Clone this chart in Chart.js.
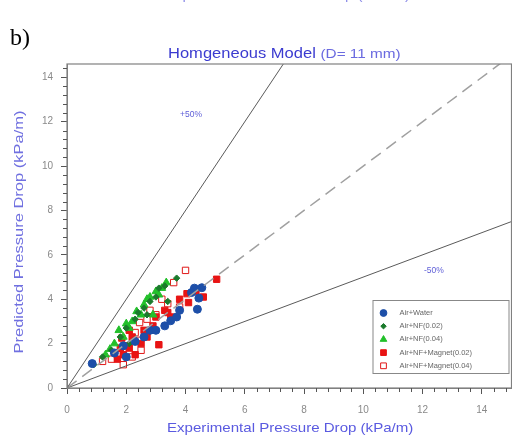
<!DOCTYPE html>
<html>
<head>
<meta charset="utf-8">
<script src="https://cdn.jsdelivr.net/npm/chart.js@4.4.1/dist/chart.umd.min.js"></script>
<style>
  body { margin: 0; background: #fff; }
  #wrap { position: relative; width: 512px; height: 448px; overflow: hidden; font-family: "Liberation Sans", Arial, sans-serif; }
  #grafica { position: absolute; left: 0; top: 0; }
  .txt { position: absolute; white-space: nowrap; transform-origin: 0 0; }
</style>
</head>
<body>
<div id="wrap">
  <canvas id="grafica" width="517" height="448"></canvas>
  <div class="txt" style="left:165px; top:-15px; font-size:15px; color:#8f8fe8;">Experimental Pressure Drop (kPa/m)</div>
  <div class="txt" style="left:10px; top:24px; font-family:'Liberation Serif', serif; font-size:24px; color:#000;">b)</div>
  <div class="txt" style="left:168px; top:45px; font-size:14px; color:#3b3bd0; transform: scaleX(1.18);">Homgeneous Model <span style="font-size:13px; color:#6a6ae0;">(D= 11 mm)</span></div>
  <div class="txt" style="left:167px; top:420px; font-size:13px; color:#5a5ae0; transform: scaleX(1.16);">Experimental Pressure Drop (kPa/m)</div>
  <div class="txt" style="left:19px; top:232px; font-size:16.5px; color:#7070e0; transform-origin: 50% 50%; transform: translate(-50%,-50%) rotate(-90deg) scale(1, 0.8);">Predicted Pressure Drop (kPa/m)</div>
  <div class="txt" style="left:180px; top:109px; font-size:8.5px; color:#6060d8;">+50%</div>
  <div class="txt" style="left:424px; top:265px; font-size:8.5px; color:#6060d8;">-50%</div>
</div>
<script>
// valores (kPa/m)
const tickValores = [0, 2, 4, 6, 8, 10, 12, 14];

const waterX = [0.85, 1.6, 1.9, 2.0, 2.3, 2.6, 2.8, 3.0, 3.3, 3.5, 3.7, 3.8, 4.2, 4.3, 4.4, 4.45, 4.55];
const waterY = [1.1, 1.58, 1.9, 1.4, 2.1, 2.3, 2.6, 2.6, 2.8, 3.03, 3.2, 3.5, 4.3, 4.5, 3.55, 4.05, 4.52];

const nf02X = [0.9, 1.2, 1.5, 1.8, 2.0, 2.1, 2.3, 2.4, 2.6, 2.7, 2.8, 3.0, 3.1, 3.3, 3.4, 3.7];
const nf02Y = [1.05, 1.4, 1.7, 2.3, 2.7, 2.0, 3.1, 3.4, 3.6, 3.3, 3.9, 4.1, 4.5, 4.6, 3.9, 4.95];

const nf04X = [1.3, 1.45, 1.6, 1.75, 1.9, 2.0, 2.1, 2.2, 2.35, 2.5, 2.6, 2.7, 2.8, 2.9, 3.0, 3.1, 3.2, 3.35];
const nf04Y = [1.5, 1.75, 2.0, 2.6, 2.3, 2.9, 2.7, 3.0, 3.45, 3.3, 3.75, 4.0, 4.1, 3.3, 4.35, 4.2, 4.5, 4.75];

const mag02X = [1.7, 1.8, 1.9, 2.1, 1.85, 2.1, 2.2, 2.3, 2.5, 2.6, 2.7, 2.9, 3.0, 3.1, 3.3, 3.4, 3.5, 3.8, 4.1, 4.05, 4.35, 4.6, 5.05];
const mag02Y = [1.3, 1.8, 1.5, 1.8, 2.25, 2.6, 2.3, 1.5, 2.0, 2.6, 2.3, 2.8, 3.2, 1.95, 3.5, 3.4, 3.2, 4.0, 3.85, 4.25, 4.35, 4.1, 4.9];

const mag04X = [1.2, 1.5, 1.7, 1.9, 2.0, 2.2, 2.3, 2.45, 2.45, 2.5, 2.7, 2.85, 2.8, 3.0, 3.2, 3.4, 3.6, 3.8, 4.0];
const mag04Y = [1.2, 1.3, 1.5, 1.05, 1.9, 1.4, 2.5, 2.15, 2.95, 1.7, 3.1, 2.6, 3.5, 3.3, 4.0, 3.8, 4.75, 3.65, 5.3];

// lineas de referencia: y = k * x
const lineaX = [0, 15];
const pendientes = [2, 1, 0.5];

function puntos(xs, ys) {
    return xs.map((x, i) => ({ x: x, y: ys[i] }));
}

function linea(k) {
    return lineaX.map(x => ({ x: x, y: k * x }));
}

const series = [
    { label: 'Air+Water', data: puntos(waterX, waterY), pointStyle: 'circle', radius: 4, bg: '#1d4fa8', border: '#1d4fa8' },
    { label: 'Air+NF(0.02)', data: puntos(nf02X, nf02Y), pointStyle: 'rectRot', radius: 3.2, bg: '#1b7a2c', border: '#1b7a2c' },
    { label: 'Air+NF(0.04)', data: puntos(nf04X, nf04Y), pointStyle: 'triangle', radius: 4.5, bg: '#22c02a', border: '#22c02a' },
    { label: 'Air+NF+Magnet(0.02)', data: puntos(mag02X, mag02Y), pointStyle: 'rect', radius: 4.5, bg: '#e81414', border: '#e81414' },
    { label: 'Air+NF+Magnet(0.04)', data: puntos(mag04X, mag04Y), pointStyle: 'rect', radius: 4.5, bg: '#ffffff', border: '#e01818' }
];

const datasets = [];
datasets.push({ type: 'line', data: linea(pendientes[0]), borderColor: '#5a5a5a', borderWidth: 1, pointRadius: 0, fill: false });
datasets.push({ type: 'line', data: linea(pendientes[1]), borderColor: '#a0a0a0', borderWidth: 1.5, borderDash: [12, 7], pointRadius: 0, fill: false });
datasets.push({ type: 'line', data: linea(pendientes[2]), borderColor: '#5a5a5a', borderWidth: 1, pointRadius: 0, fill: false });
for (const s of series) {
    datasets.push({
        type: 'scatter',
        label: s.label,
        data: s.data,
        pointStyle: s.pointStyle,
        pointRadius: s.radius,
        backgroundColor: s.bg,
        borderColor: s.border,
        borderWidth: 1
    });
}

// dibuja una marca como en la grafica
function marca(ctx, s, x, y) {
    const r = s.radius * 0.85;
    ctx.save();
    ctx.fillStyle = s.bg;
    ctx.strokeStyle = s.border;
    ctx.lineWidth = 1;
    ctx.beginPath();
    if (s.pointStyle === 'circle') {
        ctx.arc(x, y, r, 0, Math.PI * 2);
    } else if (s.pointStyle === 'rectRot') {
        ctx.moveTo(x, y - r); ctx.lineTo(x + r, y); ctx.lineTo(x, y + r); ctx.lineTo(x - r, y); ctx.closePath();
    } else if (s.pointStyle === 'triangle') {
        ctx.moveTo(x, y - r); ctx.lineTo(x + r * 0.87, y + r * 0.5); ctx.lineTo(x - r * 0.87, y + r * 0.5); ctx.closePath();
    } else {
        const a = r * 0.75;
        ctx.rect(x - a, y - a, 2 * a, 2 * a);
    }
    ctx.fill();
    ctx.stroke();
    ctx.restore();
}

const marcoPlugin = {
    id: 'marco',
    afterDraw(chart) {
        const ctx = chart.ctx;
        const a = chart.chartArea;
        const sx = chart.scales.x, sy = chart.scales.y;
        ctx.save();
        // caja completa
        ctx.strokeStyle = '#808080';
        ctx.lineWidth = 1.2;
        ctx.strokeRect(a.left, a.top, a.right - a.left, a.bottom - a.top);
        // ticks menores
        ctx.strokeStyle = '#555';
        ctx.lineWidth = 1;
        ctx.beginPath();
        for (let v = 0.4; v < sx.max; v += 0.4) {
            if (Math.abs(v / 2 - Math.round(v / 2)) < 0.01) continue;
            const px = Math.round(sx.getPixelForValue(v)) + 0.5;
            ctx.moveTo(px, a.bottom); ctx.lineTo(px, a.bottom + 4);
        }
        for (let v = 0.4; v < sy.max; v += 0.4) {
            if (Math.abs(v / 2 - Math.round(v / 2)) < 0.01) continue;
            const py = Math.round(sy.getPixelForValue(v)) + 0.5;
            ctx.moveTo(a.left - 4, py); ctx.lineTo(a.left, py);
        }
        ctx.stroke();

        // leyenda
        const lx = a.right - 139, ly = a.bottom - 88, lw = 136, lh = 73;
        ctx.fillStyle = '#fff';
        ctx.fillRect(lx, ly, lw, lh);
        ctx.strokeStyle = '#888';
        ctx.strokeRect(lx + 0.5, ly + 0.5, lw, lh);
        ctx.font = '7.5px "Liberation Sans", Arial, sans-serif';
        ctx.textBaseline = 'middle';
        series.forEach((s, i) => {
            const yy = ly + 13 + i * 13.2;
            marca(ctx, s, lx + 11, yy);
            ctx.fillStyle = '#666';
            ctx.fillText(s.label, lx + 27, yy);
        });
        ctx.restore();
    }
};

const fijarTicks = s => { s.ticks = tickValores.map(v => ({ value: v })); };

new Chart(document.getElementById('grafica'), {
    type: 'scatter',
    data: { datasets: datasets },
    options: {
        responsive: false,
        animation: false,
        layout: { padding: { top: 64, right: 0, left: 0, bottom: 0 } },
        plugins: { legend: { display: false }, tooltip: { enabled: false } },
        scales: {
            x: {
                type: 'linear', min: 0, max: 15,
                afterFit: s => { s.height = 60; },
                afterBuildTicks: fijarTicks,
                ticks: { color: '#8a8a8a', font: { size: 10, family: '"Liberation Sans", Arial' }, padding: 10, maxRotation: 0 },
                grid: { drawOnChartArea: false, tickLength: 6, color: '#555' },
                border: { color: '#808080' }
            },
            y: {
                type: 'linear', min: 0, max: 14.6,
                afterFit: s => { s.width = 67; },
                afterBuildTicks: fijarTicks,
                ticks: { color: '#8a8a8a', font: { size: 10, family: '"Liberation Sans", Arial' }, padding: 8 },
                grid: { drawOnChartArea: false, tickLength: 6, color: '#555' },
                border: { color: '#808080' }
            }
        }
    },
    plugins: [marcoPlugin]
});
</script>
</body>
</html>
